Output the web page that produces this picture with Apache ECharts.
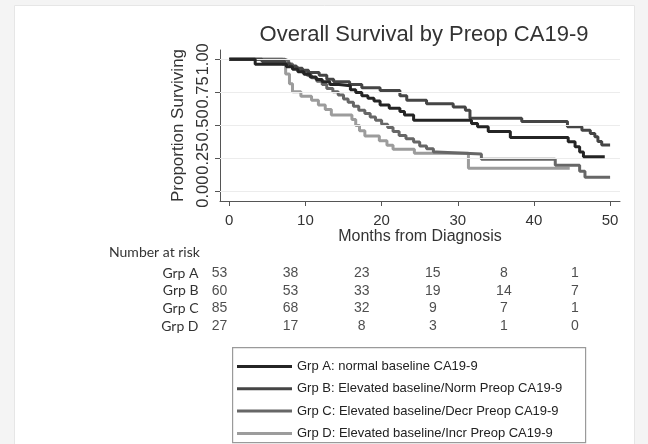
<!DOCTYPE html>
<html>
<head>
<meta charset="utf-8">
<script src="https://cdn.jsdelivr.net/npm/echarts@6/dist/echarts.min.js"></script>
<style>
  html, body { margin: 0; padding: 0; background: #f4f4f4; }
  #chart { width: 648px; height: 444px; }
</style>
</head>
<body>
<div id="chart"></div>
<script>
// Kaplan-Meier step points: [months, proportion surviving]
const grpA = [[0,1],[3.4,0.962],[7.5,0.943],[8.3,0.924],[9.0,0.905],[9.8,0.886],[10.6,0.867],[11.4,0.848],[12.2,0.83],[13.2,0.81],[14.4,0.80],[15.9,0.77],[16.6,0.75],[17.4,0.725],[18.2,0.705],[19.0,0.685],[19.8,0.655],[21.0,0.63],[22.4,0.605],[23.0,0.58],[24.2,0.54],[31.8,0.515],[32.6,0.49],[34.0,0.455],[36.9,0.41],[44.5,0.378],[45.4,0.34],[46.0,0.30],[46.5,0.265],[49.3,0.265]];
const grpB = [[0,1],[4.3,0.983],[7.3,0.967],[8.0,0.95],[8.8,0.933],[9.6,0.917],[10.4,0.90],[11.8,0.88],[12.8,0.85],[13.7,0.83],[15.8,0.81],[17.4,0.785],[19.8,0.765],[22.4,0.725],[23.3,0.69],[25.9,0.665],[29.4,0.64],[31.0,0.615],[31.6,0.555],[38.4,0.53],[44.4,0.49],[46.3,0.465],[47.4,0.44],[48.0,0.415],[48.4,0.38],[48.9,0.353],[50.0,0.353]];
const grpC = [[0,1],[7.3,0.988],[7.8,0.965],[8.3,0.94],[9.0,0.92],[9.6,0.90],[10.2,0.88],[10.8,0.86],[11.5,0.835],[12.2,0.81],[12.8,0.78],[13.6,0.755],[14.3,0.73],[15.0,0.70],[15.6,0.675],[16.3,0.645],[17.0,0.615],[17.8,0.59],[18.5,0.565],[19.2,0.54],[20.0,0.51],[20.8,0.485],[21.5,0.455],[22.3,0.425],[23.2,0.40],[24.2,0.375],[25.0,0.345],[25.9,0.325],[26.8,0.30],[27.2,0.285],[33.1,0.245],[42.8,0.20],[46.0,0.155],[46.7,0.11],[50.0,0.11]];
const grpD = [[0,1],[7.0,0.963],[7.4,0.889],[7.9,0.815],[8.3,0.755],[9.4,0.72],[10.8,0.69],[11.7,0.655],[12.6,0.62],[13.4,0.58],[16.1,0.545],[16.6,0.50],[17.1,0.46],[17.8,0.42],[19.7,0.385],[20.7,0.35],[21.5,0.32],[24.3,0.29],[31.4,0.177],[44.7,0.177]];

const legendNames = [
  'Grp A: normal baseline CA19-9',
  'Grp B: Elevated baseline/Norm Preop CA19-9',
  'Grp C: Elevated baseline/Decr Preop CA19-9',
  'Grp D: Elevated baseline/Incr Preop CA19-9'
];
const lineColors = ['#242424', '#454545', '#676767', '#9c9c9c'];

// Number-at-risk table
const riskGroups = ['Grp A', 'Grp B', 'Grp C', 'Grp D'];
const riskTimes = [0, 10, 20, 30, 40, 50];
const riskA = [53, 38, 23, 15, 8, 1];
const riskB = [60, 53, 33, 19, 14, 7];
const riskC = [85, 68, 32, 9, 7, 1];
const riskD = [27, 17, 8, 3, 1, 0];

const xTicks = [0, 10, 20, 30, 40, 50];
const yTicks = [0, 0.25, 0.5, 0.75, 1];

const curves = [grpA, grpB, grpC, grpD];
const riskRows = [riskA, riskB, riskC, riskD];

// one table cell per (time column, group row)
const riskData = [];
riskRows.forEach((row, g) => {
  row.forEach((n, k) => riskData.push([k, riskGroups[g], n]));
});

const axisColor = '#555';
const sans = '"Liberation Sans", Arial, sans-serif';
const tableFont = 'Lato, "Open Sans", sans-serif';

const chart = echarts.init(document.getElementById('chart'), null, { renderer: 'canvas' });

const curveSeries = curves.map((pts, i) => ({
  name: legendNames[i],
  type: 'line',
  step: 'end',
  data: pts,
  symbol: 'none',
  xAxisIndex: 0,
  yAxisIndex: 0,
  z: 5 - i,
  lineStyle: { color: lineColors[i], width: 3 },
  itemStyle: { color: lineColors[i] },
  animation: false
}));

chart.setOption({
  backgroundColor: '#f4f4f4',
  animation: false,
  graphic: [
    { type: 'rect', left: 14, top: 5, z: -10,
      shape: { width: 620, height: 439 },
      style: { fill: '#ffffff', stroke: '#e6e6e6', lineWidth: 1 } },
    { type: 'rect', left: 232, top: 347, z: 10,
      shape: { width: 353, height: 95 },
      style: { fill: 'rgba(0,0,0,0)', stroke: '#9a9a9a', lineWidth: 1.2 } }
  ],
  title: [
    { text: 'Overall Survival by Preop CA19-9', left: 424, top: 24, textAlign: 'center', padding: 0,
      textStyle: { fontFamily: sans, fontSize: 22, fontWeight: 'normal', color: '#333' } },
    { text: 'Number at risk', left: 109, top: 245, padding: 0,
      textStyle: { fontFamily: tableFont, fontSize: 14, fontWeight: 'normal', color: '#333' } }
  ],
  legend: {
    data: legendNames,
    orient: 'vertical',
    left: 235,
    top: 349,
    padding: [11, 0, 0, 2],
    icon: 'rect',
    itemWidth: 55,
    itemHeight: 3,
    itemGap: 9.3,
    textStyle: { fontFamily: sans, fontSize: 13, color: '#222' }
  },
  grid: [
    { left: 220, top: 50, width: 400, height: 151 },
    { left: 219.5, top: 264.2, width: 355.5, height: 70.7 }
  ],
  xAxis: [
    {
      type: 'value', gridIndex: 0, min: -1.22, max: 51.3,
      axisLine: { show: true, onZero: false, lineStyle: { color: axisColor, width: 1 } },
      axisTick: { show: true, customValues: xTicks, length: 5, lineStyle: { color: axisColor } },
      axisLabel: { customValues: xTicks, fontFamily: sans, fontSize: 15, color: '#333', margin: 12 },
      splitLine: { show: false },
      name: 'Months from Diagnosis', nameLocation: 'middle', nameGap: 28,
      nameTextStyle: { fontFamily: sans, fontSize: 16, color: '#333' }
    },
    { type: 'value', gridIndex: 1, min: 0, max: 5, show: false }
  ],
  yAxis: [
    {
      type: 'value', gridIndex: 0, min: -0.07, max: 1.07,
      axisLine: { show: true, onZero: false, lineStyle: { color: axisColor, width: 1 } },
      axisTick: { show: true, customValues: yTicks, length: 5, lineStyle: { color: axisColor } },
      axisLabel: { customValues: yTicks, rotate: 90, fontFamily: sans, fontSize: 16.5, color: '#333', margin: 8,
        formatter: v => v.toFixed(2) },
      splitLine: { show: false },
      name: 'Proportion Surviving', nameLocation: 'middle', nameGap: 33,
      nameTextStyle: { fontFamily: sans, fontSize: 17, color: '#333' }
    },
    {
      type: 'category', gridIndex: 1, data: riskGroups, inverse: true,
      axisLine: { show: false }, axisTick: { show: false }, splitLine: { show: false },
      axisLabel: { interval: 0, fontFamily: tableFont, fontSize: 14, color: '#333', margin: 21 }
    }
  ],
  series: [
    {
      // horizontal reference lines at the labelled proportions
      type: 'line', data: [], xAxisIndex: 0, yAxisIndex: 0, z: 1, silent: true,
      markLine: {
        silent: true, symbol: 'none', label: { show: false },
        lineStyle: { color: '#ececec', width: 1, type: 'solid' },
        data: yTicks.map(v => ({ yAxis: v }))
      }
    },
    ...curveSeries,
    {
      type: 'scatter', xAxisIndex: 1, yAxisIndex: 1, data: riskData,
      symbolSize: 1, itemStyle: { color: 'rgba(0,0,0,0)' }, silent: true,
      label: { show: true, position: 'inside', formatter: p => String(p.value[2]),
        fontFamily: sans, fontSize: 14, color: '#222' }
    }
  ]
});
</script>
</body>
</html>
